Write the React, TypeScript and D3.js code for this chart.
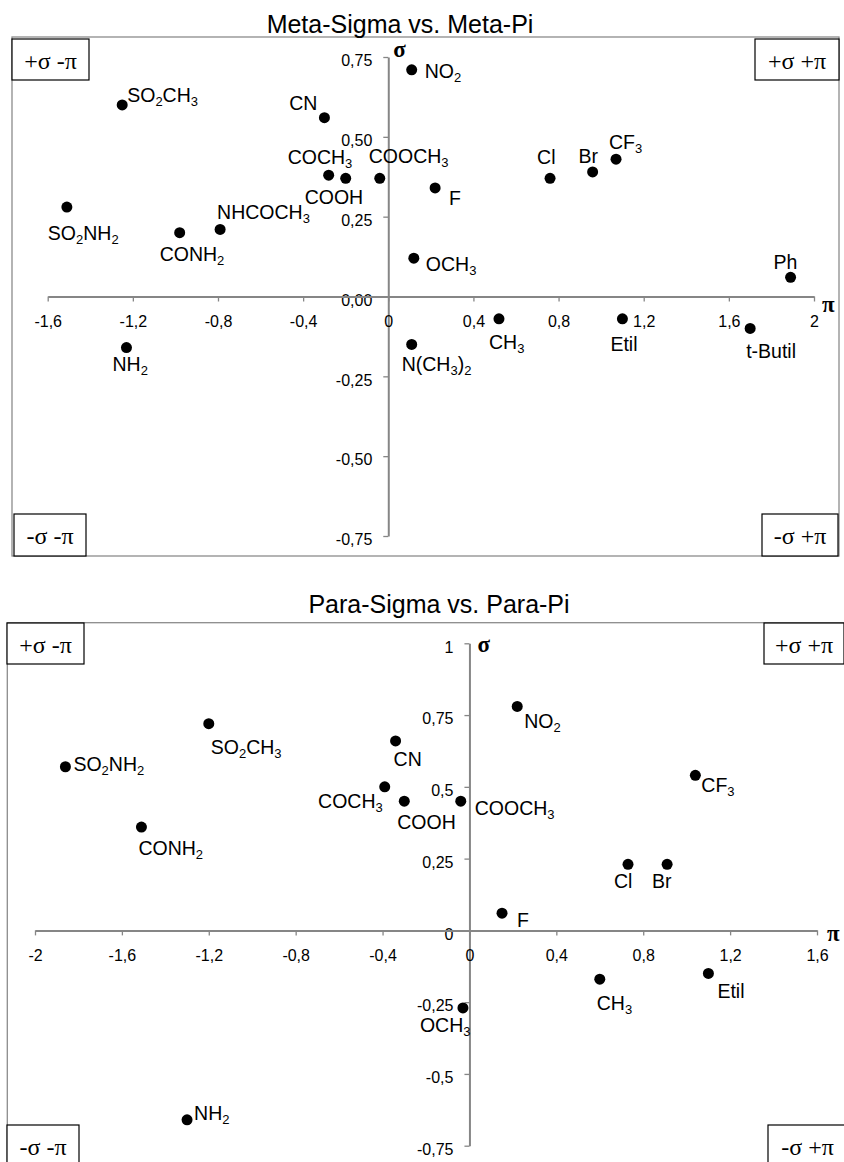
import React, { useRef, useEffect } from 'react'
import * as d3 from 'd3'

// Meta substituents: pi (x) and sigma (y)
const metaNames = ["NO2", "SO2CH3", "CN", "COCH3", "COOH", "COOCH3", "F", "Cl", "Br", "CF3",
  "SO2NH2", "CONH2", "NHCOCH3", "OCH3", "Ph", "NH2", "N(CH3)2", "CH3", "Etil", "t-Butil"]
const metaPi = [0.11, -1.25, -0.30, -0.28, -0.20, -0.04, 0.22, 0.76, 0.96, 1.07,
  -1.51, -0.98, -0.79, 0.12, 1.89, -1.23, 0.11, 0.52, 1.10, 1.70]
const metaSigma = [0.71, 0.60, 0.56, 0.38, 0.37, 0.37, 0.34, 0.37, 0.39, 0.43,
  0.28, 0.20, 0.21, 0.12, 0.06, -0.16, -0.15, -0.07, -0.07, -0.10]

const metaPiTicks = [-1.6, -1.2, -0.8, -0.4, 0, 0.4, 0.8, 1.2, 1.6, 2]
const metaPiTickLabels = ["-1,6", "-1,2", "-0,8", "-0,4", "0", "0,4", "0,8", "1,2", "1,6", "2"]
const metaSigmaTicks = [-0.75, -0.5, -0.25, 0, 0.25, 0.5, 0.75]
const metaSigmaTickLabels = ["-0,75", "-0,50", "-0,25", "0,00", "0,25", "0,50", "0,75"]

// Para substituents
const paraNames = ["SO2NH2", "SO2CH3", "CONH2", "CN", "COCH3", "COOH", "COOCH3", "NO2",
  "CF3", "Cl", "Br", "F", "CH3", "Etil", "OCH3", "NH2"]
const paraPi = [-1.86, -1.20, -1.51, -0.34, -0.39, -0.30, -0.04, 0.22,
  1.04, 0.73, 0.91, 0.15, 0.60, 1.10, -0.03, -1.30]
const paraSigma = [0.57, 0.72, 0.36, 0.66, 0.50, 0.45, 0.45, 0.78,
  0.54, 0.23, 0.23, 0.06, -0.17, -0.15, -0.27, -0.66]

const paraPiTicks = [-2, -1.6, -1.2, -0.8, -0.4, 0, 0.4, 0.8, 1.2, 1.6]
const paraPiTickLabels = ["-2", "-1,6", "-1,2", "-0,8", "-0,4", "0", "0,4", "0,8", "1,2", "1,6"]
const paraSigmaTicks = [-0.75, -0.5, -0.25, 0, 0.25, 0.5, 0.75, 1]
const paraSigmaTickLabels = ["-0,75", "-0,5", "-0,25", "0", "0,25", "0,5", "0,75", "1"]

const quadrantLabels = ["+σ -π", "+σ +π", "-σ -π", "-σ +π"]

// where each label sits relative to its dot: [anchor, dx, dy(baseline)]
const metaLabelPos = {
  "NO2": ["start", 13, 8], "SO2CH3": ["start", 5, -3], "CN": ["end", -7, -8],
  "COCH3": ["start", -41, -11], "COOH": ["start", -41, 26], "COOCH3": ["start", -11, -15],
  "F": ["start", 14, 17], "Cl": ["start", -13, -14], "Br": ["start", -14, -9],
  "CF3": ["start", -7, -10], "SO2NH2": ["start", -19, 33], "CONH2": ["start", -20, 28],
  "NHCOCH3": ["start", -3, -10], "OCH3": ["start", 12, 13], "Ph": ["start", -17, -8],
  "NH2": ["start", -14, 23], "N(CH3)2": ["start", -10, 27], "CH3": ["start", -10, 30],
  "Etil": ["start", -12, 32], "t-Butil": ["start", -4, 30]
}
const paraLabelPos = {
  "SO2NH2": ["start", 8, 4], "SO2CH3": ["start", 2, 30], "CONH2": ["start", -3, 28],
  "CN": ["start", -2, 25], "COCH3": ["end", -2, 21], "COOH": ["start", -7, 28],
  "COOCH3": ["start", 14, 14], "NO2": ["start", 7, 22], "CF3": ["start", 6, 17],
  "Cl": ["start", -14, 24], "Br": ["start", -15, 24], "F": ["start", 15, 14],
  "CH3": ["start", -3, 31], "Etil": ["start", 9, 25], "OCH3": ["start", -43, 24],
  "NH2": ["start", 7, 0]
}

const metaLayout = {
  frame: [12, 37, 827, 519],
  title: [400, 33],
  xRange: [47.7, 814],
  yRange: [536, 57],
  boxes: [[12, 39, 77, 41], [755, 39, 84, 41], [14, 514, 72, 42], [762, 514, 76, 42]],
  sigmaPos: [5, 0],
  piPos: [8, 15]
}
const paraLayout = {
  frame: [7.3, 622.7, 845, 600],
  title: [439, 613],
  xRange: [35, 817],
  yRange: [1145.7, 643.3],
  boxes: [[7, 623, 77, 41], [764, 623, 80, 41], [7, 1125, 72, 42], [768, 1125, 79, 42]],
  sigmaPos: [8, 9],
  piPos: [10, 11]
}

const sans = "Liberation Sans, Arial, sans-serif"
const serif = "Liberation Serif, Times New Roman, serif"
const axisColor = "#868686"

const Panel = ({title, names, pi, sigma, piTicks, piTickLabels, sigmaTicks, sigmaTickLabels, labelPos, layout}) => {
  const ref = useRef(null)

  useEffect(() => {
    const g = d3.select(ref.current)
    g.selectAll("*").remove()

    const x = d3.scaleLinear()
      .domain([piTicks[0], piTicks[piTicks.length - 1]])
      .range(layout.xRange)
    const y = d3.scaleLinear()
      .domain([sigmaTicks[0], sigmaTicks[sigmaTicks.length - 1]])
      .range(layout.yRange)

    const [fx, fy, fw, fh] = layout.frame
    g.append("rect")
      .attr("x", fx).attr("y", fy).attr("width", fw).attr("height", fh)
      .attr("fill", "#fff").attr("stroke", "#8c8c8c").attr("stroke-width", 1.3)

    const yAxis = g.append("g")
      .attr("transform", `translate(${x(0)}, 0)`)
      .call(d3.axisLeft(y).tickValues(sigmaTicks).tickFormat((d, i) => sigmaTickLabels[i])
        .tickSize(5).tickSizeOuter(0).tickPadding(11))

    const xAxis = g.append("g")
      .attr("transform", `translate(0, ${y(0)})`)
      .call(d3.axisBottom(x).tickValues(piTicks).tickFormat((d, i) => piTickLabels[i])
        .tickSize(5).tickSizeOuter(0).tickPadding(14))

    ;[xAxis, yAxis].forEach(a => {
      a.attr("font-family", null).attr("font-size", null)
      a.select(".domain").attr("stroke", axisColor).attr("stroke-width", 2)
      a.selectAll(".tick line").attr("stroke", axisColor).attr("stroke-width", 1.3)
      a.selectAll(".tick text")
        .attr("font-family", sans).attr("font-size", 16).attr("fill", "#000")
    })
    yAxis.selectAll(".tick text").attr("dy", "0.55em")

    const pts = names.map((n, i) => ({name: n, pi: pi[i], sigma: sigma[i]}))

    g.append("g").selectAll("circle")
      .data(pts)
      .join("circle")
      .attr("cx", d => x(d.pi))
      .attr("cy", d => y(d.sigma))
      .attr("r", 5.5)
      .attr("fill", "#000")

    g.append("g").selectAll("text")
      .data(pts)
      .join("text")
      .attr("x", d => x(d.pi) + labelPos[d.name][1])
      .attr("y", d => y(d.sigma) + labelPos[d.name][2])
      .attr("text-anchor", d => labelPos[d.name][0])
      .attr("font-family", sans)
      .attr("font-size", 19.5)
      .attr("fill", "#000")
      .each(function (d) {
        const t = d3.select(this)
        let shifted = false
        d.name.split(/(\d+)/).filter(s => s.length).forEach(p => {
          const isSub = /^\d+$/.test(p)
          const dy = isSub ? (shifted ? 0 : 4) : (shifted ? -4 : 0)
          shifted = isSub
          t.append("tspan").attr("dy", dy).attr("font-size", isSub ? 13 : null).text(p)
        })
      })

    const boxes = g.append("g").selectAll("g")
      .data(layout.boxes)
      .join("g")
    boxes.append("rect")
      .attr("x", d => d[0]).attr("y", d => d[1])
      .attr("width", d => d[2]).attr("height", d => d[3])
      .attr("fill", "#fff").attr("stroke", "#000").attr("stroke-width", 1.2)
    boxes.append("text")
      .attr("x", d => d[0] + d[2] / 2)
      .attr("y", d => d[1] + 30)
      .attr("text-anchor", "middle")
      .attr("font-family", serif)
      .attr("font-size", 24)
      .text((d, i) => quadrantLabels[i])

    g.append("text")
      .attr("x", layout.title[0]).attr("y", layout.title[1])
      .attr("text-anchor", "middle")
      .attr("font-family", sans).attr("font-size", 25)
      .text(title)

    g.append("text")
      .attr("x", x(0) + layout.sigmaPos[0])
      .attr("y", layout.yRange[1] + layout.sigmaPos[1])
      .attr("font-family", serif).attr("font-weight", "bold").attr("font-size", 23)
      .text("σ")

    g.append("text")
      .attr("x", layout.xRange[1] + layout.piPos[0])
      .attr("y", y(0) + layout.piPos[1])
      .attr("font-family", serif).attr("font-weight", "bold").attr("font-size", 23)
      .text("π")
  }, [])

  return <g ref={ref} />
}

export default function App() {
  return (
    <svg width={844} height={1162} style={{position: "absolute", left: 0, top: 0, background: "#fff"}}>
      <Panel title="Meta-Sigma vs. Meta-Pi" names={metaNames} pi={metaPi} sigma={metaSigma}
        piTicks={metaPiTicks} piTickLabels={metaPiTickLabels}
        sigmaTicks={metaSigmaTicks} sigmaTickLabels={metaSigmaTickLabels}
        labelPos={metaLabelPos} layout={metaLayout} />
      <Panel title="Para-Sigma vs. Para-Pi" names={paraNames} pi={paraPi} sigma={paraSigma}
        piTicks={paraPiTicks} piTickLabels={paraPiTickLabels}
        sigmaTicks={paraSigmaTicks} sigmaTickLabels={paraSigmaTickLabels}
        labelPos={paraLabelPos} layout={paraLayout} />
    </svg>
  )
}
